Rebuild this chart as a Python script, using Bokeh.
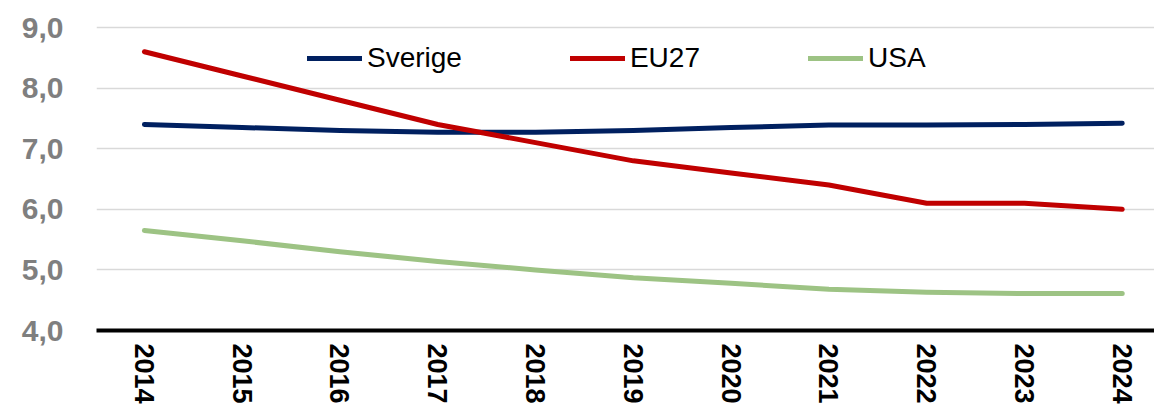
from bokeh.plotting import figure
from bokeh.models import FixedTicker, Range1d, Legend, LegendItem
from bokeh.embed import file_html
from bokeh.resources import INLINE

years = [2014, 2015, 2016, 2017, 2018, 2019, 2020, 2021, 2022, 2023, 2024]
sverige = [7.40, 7.35, 7.30, 7.27, 7.27, 7.30, 7.35, 7.39, 7.39, 7.40, 7.42]
eu27 = [8.60, 8.20, 7.80, 7.40, 7.10, 6.80, 6.60, 6.40, 6.10, 6.10, 6.00]
usa = [5.65, 5.48, 5.30, 5.14, 5.00, 4.87, 4.78, 4.68, 4.63, 4.61, 4.61]
y_ticks = [4, 5, 6, 7, 8, 9]
y_tick_labels = ["4,0", "5,0", "6,0", "7,0", "8,0", "9,0"]
series_names = ["Sverige", "EU27", "USA"]
series_colors = ["#002060", "#C00000", "#9DC384"]

FONT = "Liberation Sans"

p = figure(width=1154, height=414, output_backend="svg", toolbar_location=None,
           x_range=Range1d(2013.51, 2024.33), y_range=Range1d(4.0, 9.446),
           min_border_left=96, min_border_right=0, min_border_top=0, min_border_bottom=84)
p.outline_line_color = None
p.background_fill_color = "white"
p.border_fill_color = "white"

renderers = []
for name, vals, col in zip(series_names, [sverige, eu27, usa], series_colors):
    r = p.line(years, vals, line_color=col, line_width=5, line_cap="round", line_join="round")
    renderers.append((name, r))

p.xgrid.grid_line_color = None
p.ygrid.ticker = FixedTicker(ticks=y_ticks[1:])
p.ygrid.grid_line_color = "#d9d9d9"
p.ygrid.grid_line_width = 1.5

p.xaxis.ticker = FixedTicker(ticks=years)
p.xaxis.major_label_orientation = "vertical"
p.xaxis.major_label_text_font = FONT
p.xaxis.major_label_text_font_style = "bold"
p.xaxis.major_label_text_font_size = "27px"
p.xaxis.major_label_text_color = "black"
p.xaxis.axis_line_color = "black"
p.xaxis.axis_line_width = 4
p.xaxis.major_tick_line_color = None
p.xaxis.minor_tick_line_color = None
p.xaxis.major_label_standoff = 7

p.yaxis.ticker = FixedTicker(ticks=y_ticks)
p.yaxis.major_label_overrides = {t: l for t, l in zip(y_ticks, y_tick_labels)}
p.yaxis.major_label_text_font = FONT
p.yaxis.major_label_text_font_style = "bold"
p.yaxis.major_label_text_font_size = "30px"
p.yaxis.major_label_text_color = "#7f7f7f"
p.yaxis.axis_line_color = None
p.yaxis.major_tick_line_color = None
p.yaxis.minor_tick_line_color = None
p.yaxis.major_label_standoff = 27

legend = Legend(items=[LegendItem(label=n, renderers=[r]) for n, r in renderers],
                orientation="horizontal", location=(211, 256),
                padding=0, margin=0, spacing=108, glyph_width=55, glyph_height=30,
                label_height=30, label_standoff=5, border_line_color=None,
                background_fill_alpha=0, label_text_font=FONT,
                label_text_font_size="28px", label_text_color="black")
p.add_layout(legend, "center")

open("out.html", "w").write(file_html(p, INLINE))
